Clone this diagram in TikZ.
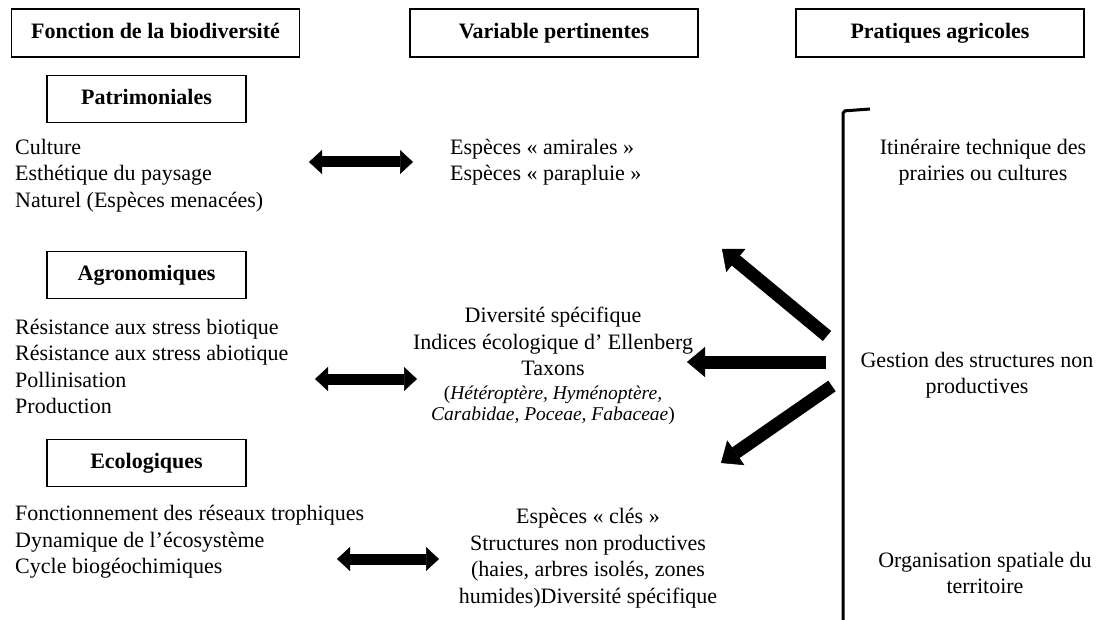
\documentclass[tikz,border=0pt]{standalone}
\usepackage{fontspec}
\setmainfont{Liberation Serif}
\usetikzlibrary{
    arrows.meta,
    positioning
}
\newcommand{\taxa}{\fontsize{19.5}{22}\selectfont}

\begin{document}
\begin{tikzpicture}[
    x=1pt, y=-1pt,
    font=\fontsize{22}{26.5}\selectfont,
    % ── Node Styles ──
    head/.style={
        draw, line width=1.6pt,
        minimum width=288pt, minimum height=48pt,
        text height=15pt, text depth=4pt,
        font=\fontsize{22}{24}\selectfont\bfseries
    },
    cat/.style={
        draw, line width=1.6pt,
        minimum width=199pt, minimum height=47pt,
        text height=15pt, text depth=4pt,
        font=\fontsize{22}{24}\selectfont\bfseries
    },
    txt/.style={inner sep=0pt, align=left, anchor=north west},
    ctxt/.style={inner sep=0pt, align=center, anchor=north},
    % ── Arrow Styles ──
    dbl/.style={
        {Triangle[length=13pt, width=24pt, line width=0.5pt]}-{Triangle[length=13pt, width=24pt, line width=0.5pt]},
        line width=11pt
    },
    push/.style={
        -{Triangle[length=18pt, width=30pt, line width=0.5pt]},
        line width=13pt
    },
    brk/.style={line width=3pt, rounded corners=2pt},
]
\useasboundingbox (0,0) rectangle (1103,620);

% ────────────────────────────────
%  HEADERS
% ────────────────────────────────
\node[head] (hfonc) at (155.5, 33) {Fonction de la biodiversité};
\node[head] (hvar)  at (554, 33)   {Variable pertinentes};
\node[head] (hprat) at (940, 33)   {Pratiques agricoles};

% ────────────────────────────────
%  FUNCTIONS (left column)
% ────────────────────────────────
\node[cat] (bpat)  at (146.5, 99)  {Patrimoniales};
\node[cat] (bagro) at (146.5, 275) {Agronomiques};
\node[cat] (beco)  at (146.5, 463) {Ecologiques};

\node[txt] (patL) at (15, 139) {
    Culture\\
    Esthétique du paysage\\
    Naturel (Espèces menacées)
};
\node[txt] (agroL) at (15, 319) {
    Résistance aux stress biotique\\
    Résistance aux stress abiotique\\
    Pollinisation\\
    Production
};
\node[txt] (ecoL) at (15, 505) {
    Fonctionnement des réseaux trophiques\\
    Dynamique de l’écosystème\\
    Cycle biogéochimiques
};

% ────────────────────────────────
%  VARIABLES (middle column)
% ────────────────────────────────
\node[txt] (patM) at (450, 139) {
    Espèces « amirales »\\
    Espèces « parapluie »
};
\node[ctxt] (agroM) at (553, 307) {
    Diversité spécifique\\
    Indices écologique d’ Ellenberg\\
    Taxons\\[-3pt]
    \taxa(\textit{Hétéroptère, Hyménoptère,}\\[-5pt]
    \taxa\textit{Carabidae, Poceae, Fabaceae})
};
\node[ctxt] (ecoM) at (588, 508) {
    Espèces « clés »\\
    Structures non productives\\
    (haies, arbres isolés, zones\\
    humides)Diversité spécifique
};

% ────────────────────────────────
%  PRACTICES (right column)
% ────────────────────────────────
\node[ctxt] (pratT) at (983, 139) {
    Itinéraire technique des\\
    prairies ou cultures
};
\node[ctxt] (pratM) at (977, 352) {
    Gestion des structures non\\
    productives
};
\node[ctxt] (pratB) at (985, 552) {
    Organisation spatiale du\\
    territoire
};

% Bracket
\coordinate (brT) at (870, 109);
\coordinate (brC) at (843, 111);
\coordinate (brB) at (843, 620);
\draw[brk] (brT) -- (brC) -- (brB);

% ── Double arrows ──
\coordinate (p1) at (309, 162);
\coordinate (p2) at (413, 162);
\coordinate (a1) at (315, 379);
\coordinate (a2) at (417, 379);
\coordinate (e1) at (337, 559);
\coordinate (e2) at (439, 559);
\draw[dbl] (p1) -- (p2);
\draw[dbl] (a1) -- (a2);
\draw[dbl] (e1) -- (e2);

% ── Arrows from management ──
\coordinate (gt1) at (827, 336);
\coordinate (gt2) at (722, 249);
\coordinate (gm1) at (826, 362);
\coordinate (gm2) at (687, 362);
\coordinate (gb1) at (832, 386);
\coordinate (gb2) at (721, 463);
\draw[push] (gt1) -- (gt2);
\draw[push] (gm1) -- (gm2);
\draw[push] (gb1) -- (gb2);

\end{tikzpicture}
\end{document}
